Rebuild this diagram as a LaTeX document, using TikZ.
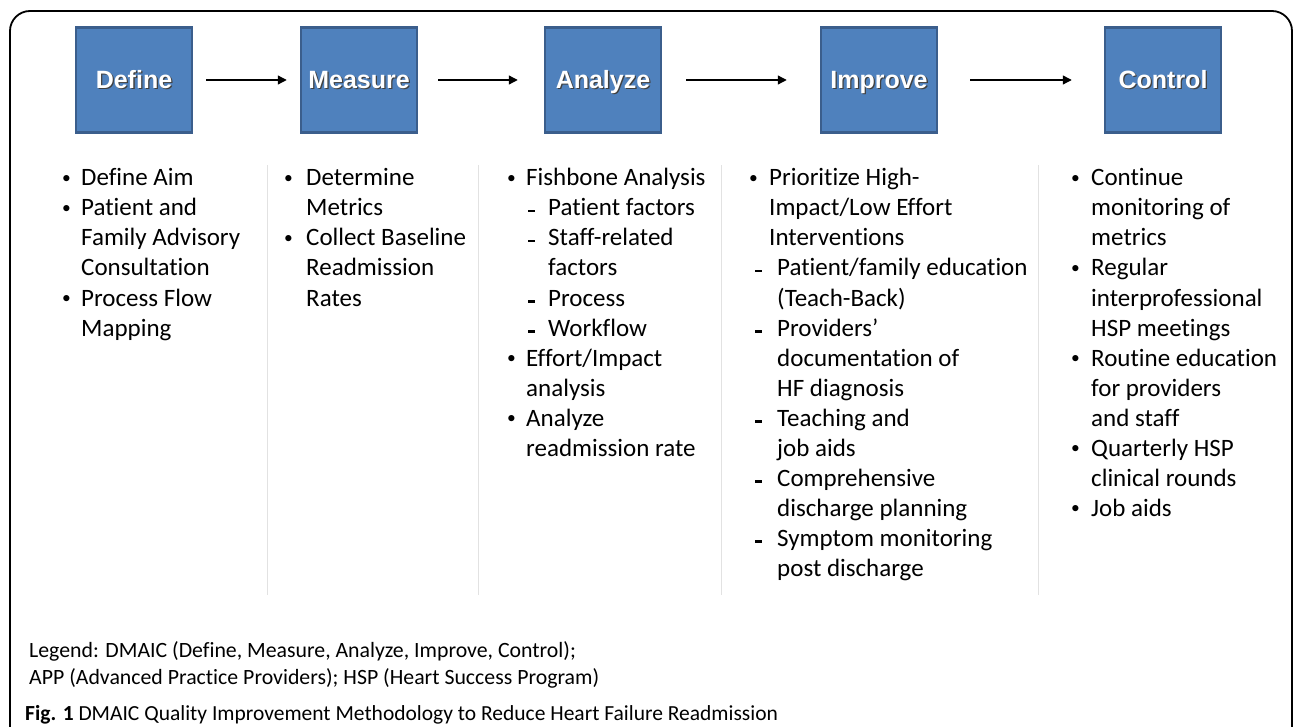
\documentclass[tikz,border=0pt]{standalone}
\usepackage{fontspec}
\setmainfont{Carlito}[Ligatures=NoCommon]
\newfontfamily\headfont{Liberation Sans}[BoldFont={Liberation Sans Bold}]
\usetikzlibrary{arrows.meta}
\definecolor{boxfill}{HTML}{4F81BD}
\definecolor{boxline}{HTML}{3B5E8C}
\definecolor{sepgray}{HTML}{E2E2E2}
\tikzset{
  stage/.style={draw=boxline, line width=2.5pt, fill=boxfill, minimum width=116pt, minimum height=105pt,
    inner sep=0pt, text height=18pt, text depth=1pt},
  flow/.style={-{Triangle[length=9pt,width=9pt]}, line width=1.3pt},
  ln/.style={anchor=base west, inner sep=0pt, font=\fontsize{25}{30}\selectfont},
  blt/.style={anchor=base west, inner sep=0pt, font=\fontsize{17.5}{17}\selectfont},
  dsh/.style={anchor=base west, inner sep=0pt},
  sep/.style={draw=sepgray, line width=1pt},
  note/.style={anchor=base west, inner sep=0pt, font=\fontsize{21.8}{26}\selectfont},
}
% stage label: white bold text with a dark drop shadow
\newcommand{\stagelabel}[1]{{\headfont\bfseries\fontsize{25}{28}\selectfont
  \makebox[0pt][l]{\hspace{1.3pt}\raisebox{-1.3pt}{\color{black!75}#1}}\color{white}#1}}
\newcommand{\bul}{\raisebox{2.5pt}{•}}
\newcommand{\sdash}{\rule[3.5pt]{7pt}{2.4pt}}
\begin{document}
\begin{tikzpicture}[x=1pt,y=-1pt]
\useasboundingbox (0,0) rectangle (1293,727);
\begin{scope}
\clip (0,0) rectangle (1293,727);
\draw[line width=1.8pt, rounded corners=20pt] (10,11) rectangle (1292,800);
\end{scope}

% stage boxes
\node[stage] (define)  at (134,80)  {\stagelabel{Define}};
\node[stage] (measure) at (359,80)  {\stagelabel{Measure}};
\node[stage] (analyze) at (603,80)  {\stagelabel{Analyze}};
\node[stage] (improve) at (879,80)  {\stagelabel{Improve}};
\node[stage] (control) at (1163,80) {\stagelabel{Control}};

\draw[flow] ([xshift=13pt]define.east)  -- ([xshift=-13pt]measure.west);
\draw[flow] ([xshift=20pt]measure.east) -- ([xshift=-26pt]analyze.west);
\draw[flow] ([xshift=24pt]analyze.east) -- ([xshift=-33pt]improve.west);
\draw[flow] ([xshift=32pt]improve.east) -- ([xshift=-32pt]control.west);

% column separators
\draw[sep] (267,165) -- (267,595);
\draw[sep] (478,165) -- (478,595);
\draw[sep] (721,165) -- (721,595);
\draw[sep] (1038,165) -- (1038,595);

% Define column
\node[blt] (d1b) at (62,186) {\bul};
\node[ln] (d1) at (81,186) {Define Aim};
\node[blt] (d2b) at (62,216) {\bul};
\node[ln] (d2) at (81,216) {Patient and};
\node[ln] (d2x) at (81,246) {Family Advisory};
\node[ln] (d2y) at (81,276) {Consultation};
\node[blt] (d3b) at (62,306) {\bul};
\node[ln] (d3) at (81,306) {Process Flow};
\node[ln] (d3x) at (81,336) {Mapping};

% Measure column
\node[blt] (m1b) at (284,186) {\bul};
\node[ln] (m1) at (306,186) {Determine};
\node[ln] (m1x) at (306,216) {Metrics};
\node[blt] (m2b) at (284,246) {\bul};
\node[ln] (m2) at (306,246) {Collect Baseline};
\node[ln] (m2x) at (306,276) {Readmission};
\node[ln] (m2y) at (306,306) {Rates};

% Analyze column
\node[blt] (a1b) at (507,186) {\bul};
\node[ln] (a1) at (526,186) {Fishbone Analysis};
\node[dsh] (a1ab) at (528,216) {\sdash};
\node[ln] (a1a) at (548,216) {Patient factors};
\node[dsh] (a1bb) at (528,246) {\sdash};
\node[ln] (a1b) at (548,246) {Staff-related};
\node[ln] (a1bx) at (548,276) {factors};
\node[dsh] (a1cb) at (528,306) {\sdash};
\node[ln] (a1c) at (548,306) {Process};
\node[dsh] (a1db) at (528,336) {\sdash};
\node[ln] (a1d) at (548,336) {Workflow};
\node[blt] (a2b) at (507,366) {\bul};
\node[ln] (a2) at (526,366) {Effort/Impact};
\node[ln] (a2x) at (526,396) {analysis};
\node[blt] (a3b) at (507,426) {\bul};
\node[ln] (a3) at (526,426) {Analyze};
\node[ln] (a3x) at (526,456) {readmission rate};

% Improve column
\node[blt] (i1b) at (749,186) {\bul};
\node[ln] (i1) at (769,186) {Prioritize High-};
\node[ln] (i1x) at (769,216) {Impact/Low Effort};
\node[ln] (i1y) at (769,246) {Interventions};
\node[dsh] (i2b) at (755,276) {\sdash};
\node[ln] (i2) at (777,276) {Patient/family education};
\node[ln] (i2x) at (777,306) {(Teach-Back)};
\node[dsh] (i3b) at (755,336) {\sdash};
\node[ln] (i3) at (777,336) {Providers’};
\node[ln] (i3x) at (777,366) {documentation of};
\node[ln] (i3y) at (777,396) {HF diagnosis};
\node[dsh] (i4b) at (755,426) {\sdash};
\node[ln] (i4) at (777,426) {Teaching and};
\node[ln] (i4x) at (777,456) {job aids};
\node[dsh] (i5b) at (755,486) {\sdash};
\node[ln] (i5) at (777,486) {Comprehensive};
\node[ln] (i5x) at (777,516) {discharge planning};
\node[dsh] (i6b) at (755,546) {\sdash};
\node[ln] (i6) at (777,546) {Symptom monitoring};
\node[ln] (i6x) at (777,576) {post discharge};

% Control column
\node[blt] (c1b) at (1071,186) {\bul};
\node[ln] (c1) at (1091,186) {Continue};
\node[ln] (c1x) at (1091,216) {monitoring of};
\node[ln] (c1y) at (1091,246) {metrics};
\node[blt] (c2b) at (1071,276) {\bul};
\node[ln] (c2) at (1091,276) {Regular};
\node[ln] (c2x) at (1091,306) {interprofessional};
\node[ln] (c2y) at (1091,336) {HSP meetings};
\node[blt] (c3b) at (1071,366) {\bul};
\node[ln] (c3) at (1091,366) {Routine education};
\node[ln] (c3x) at (1091,396) {for providers};
\node[ln] (c3y) at (1091,426) {and staff};
\node[blt] (c4b) at (1071,456) {\bul};
\node[ln] (c4) at (1091,456) {Quarterly HSP};
\node[ln] (c4x) at (1091,486) {clinical rounds};
\node[blt] (c5b) at (1071,516) {\bul};
\node[ln] (c5) at (1091,516) {Job aids};

% legend and caption
\node[note] (leg1) at (29,657) {Legend: DMAIC (Define, Measure, Analyze, Improve, Control);};
\node[note] (leg2) at (29,684) {APP (Advanced Practice Providers); HSP (Heart Success Program)};
\node[note, font=\fontsize{21.5}{24}\selectfont] (cap) at (25,720) {\textbf{Fig. 1} DMAIC Quality Improvement Methodology to Reduce Heart Failure Readmission};
\end{tikzpicture}
\end{document}
